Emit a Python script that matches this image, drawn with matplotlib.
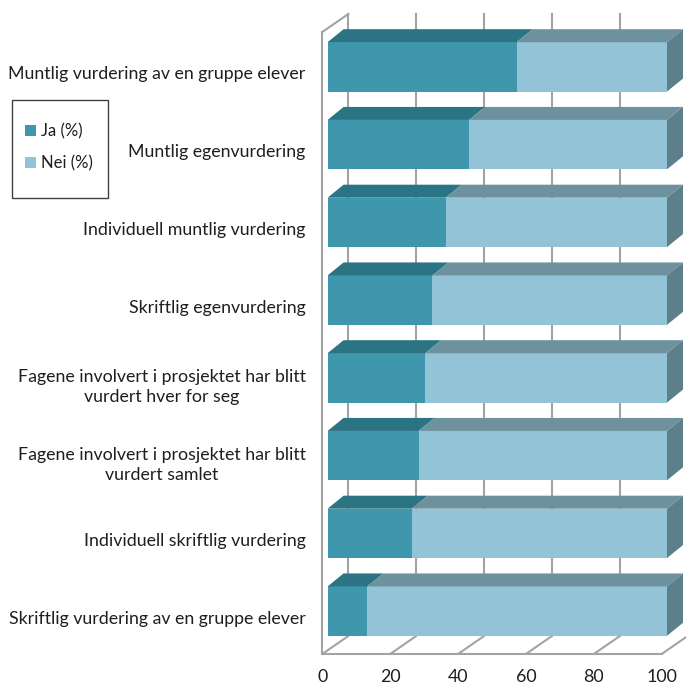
import matplotlib
matplotlib.use('Agg')
import matplotlib.pyplot as plt
import numpy as np
from matplotlib.patches import Polygon, Rectangle
from matplotlib.transforms import ScaledTranslation

categories = [
    "Muntlig vurdering av en gruppe elever",
    "Muntlig egenvurdering",
    "Individuell muntlig vurdering",
    "Skriftlig egenvurdering",
    "Fagene involvert i prosjektet har blitt\nvurdert hver for seg",
    "Fagene involvert i prosjektet har blitt\nvurdert samlet",
    "Individuell skriftlig vurdering",
    "Skriftlig vurdering av en gruppe elever",
]
ja = [55.7, 41.7, 34.8, 30.9, 28.8, 26.8, 24.8, 11.7]
nei = [100 - v for v in ja]
series_labels = ["Ja (%)", "Nei (%)"]
xticks = [0, 20, 40, 60, 80, 100]

ja_front, ja_top = "#3F97AE", "#2A7483"
nei_front, nei_top, nei_side = "#92C3D6", "#6D929E", "#5D7F8A"
grid_c = "#A3A3A3"
text_c = "#1E1E1E"
FONT = "Lato"
FS = 12.8

W, H = 686, 687
fig = plt.figure(figsize=(W / 100, H / 100), dpi=100)
L, R, T, B = 322.3, 661.7, 32, 654
ax = fig.add_axes([L / W, 1 - B / H, (R - L) / W, (B - T) / H])
n = len(categories)
y = np.arange(n)
ax.set_xlim(0, 100)
ax.set_ylim(n - 0.5, -0.5)

WALL = (26, 18)     # depth of the walls/floor in pixels
SHIFT = (5.3, 4)    # bar position inside the depth
BD = (16, 13)       # bar depth
BH = 0.635


def px_shift(dx, dy):
    return ScaledTranslation(dx / 100, dy / 100, fig.dpi_scale_trans)


def to_data(x, yv, dx, dy):
    disp = ax.transData.transform((x, yv)) + np.array([dx, dy])
    return ax.transData.inverted().transform(disp)


# back wall gridlines and floor lines
for x in xticks:
    ax.plot([x, x], [n - 0.5, -0.5], transform=ax.transData + px_shift(*WALL),
            color=grid_c, lw=1.5, clip_on=False, zorder=1)
    p0 = (x, n - 0.5)
    p1 = to_data(x, n - 0.5, *WALL)
    ax.plot([p0[0], p1[0]], [p0[1], p1[1]], color=grid_c, lw=1.5,
            clip_on=False, zorder=1, solid_capstyle='butt')
# left wall top edge
p1 = to_data(0, -0.5, *WALL)
ax.plot([0, p1[0]], [-0.5, p1[1]], color=grid_c, lw=1.5, clip_on=False, zorder=1)

# front faces
shift_t = ax.transData + px_shift(*SHIFT)
ax.barh(y, ja, height=BH, color=ja_front, label=series_labels[0],
        transform=shift_t, zorder=3, clip_on=False)
ax.barh(y, nei, left=ja, height=BH, color=nei_front, label=series_labels[1],
        transform=shift_t, zorder=3, clip_on=False)

# top and side faces
sx, sy = SHIFT
bx, by = BD
for i in range(n):
    ytop = y[i] - BH / 2
    ybot = y[i] + BH / 2
    for x0, x1, c in [(0, ja[i], ja_top), (ja[i], 100, nei_top)]:
        pts = [to_data(x0, ytop, sx, sy), to_data(x1, ytop, sx, sy),
               to_data(x1, ytop, sx + bx, sy + by), to_data(x0, ytop, sx + bx, sy + by)]
        ax.add_patch(Polygon(pts, closed=True, facecolor=c, edgecolor='none',
                             zorder=3, clip_on=False))
    pts = [to_data(100, ytop, sx, sy), to_data(100, ybot, sx, sy),
           to_data(100, ybot, sx + bx, sy + by), to_data(100, ytop, sx + bx, sy + by)]
    ax.add_patch(Polygon(pts, closed=True, facecolor=nei_side, edgecolor='none',
                         zorder=3, clip_on=False))

ax.set_xlim(0, 100)
ax.set_ylim(n - 0.5, -0.5)

for s in ['top', 'right']:
    ax.spines[s].set_visible(False)
for s in ['left', 'bottom']:
    ax.spines[s].set_color(grid_c)
    ax.spines[s].set_linewidth(1.5)
    ax.spines[s].set_zorder(2)

ax.set_xticks(xticks)
ax.set_xticklabels([str(v) for v in xticks], fontsize=FS, family=FONT, color=text_c)
ax.set_yticks(y)
ax.set_yticklabels(categories, fontsize=FS, family=FONT, color=text_c,
                   multialignment='center', linespacing=1.3)
ax.tick_params(axis='both', length=0)
ax.tick_params(axis='x', pad=11)
ax.tick_params(axis='y', pad=12)
for t in ax.get_yticklabels():
    t.set_transform(t.get_transform() + px_shift(0, -2))

# legend
handles, labels = ax.get_legend_handles_labels()
leg = fig.legend(handles, labels, loc='center left',
                 bbox_to_anchor=(25 / W, 1 - 147 / H), frameon=False,
                 prop={'family': FONT, 'size': 12}, handlelength=0.65,
                 handleheight=0.65, handletextpad=0.3, labelspacing=0.95,
                 borderpad=0, borderaxespad=0)
for t in leg.get_texts():
    t.set_color(text_c)
fig.add_artist(Rectangle((12 / W, 1 - 198 / H), 96 / W, 98 / H,
                         transform=fig.transFigure, fill=False,
                         edgecolor='#404040', lw=1))

fig.savefig("out.png", dpi=100)
